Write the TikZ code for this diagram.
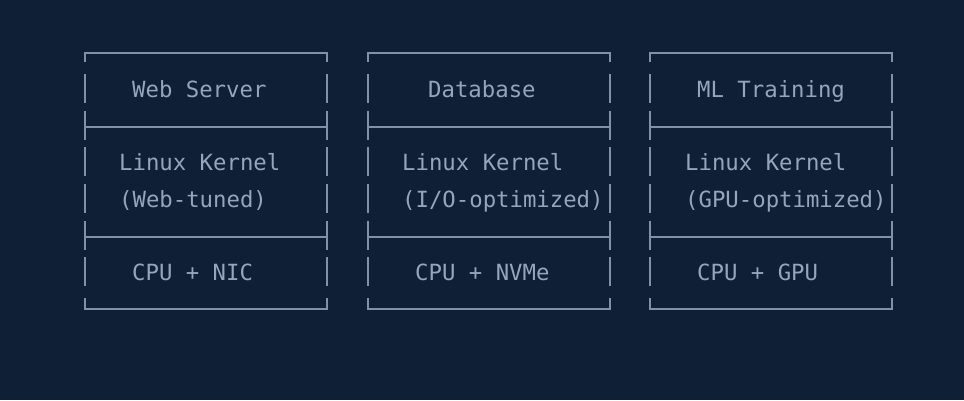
\documentclass[tikz,border=0pt]{standalone}
\usepackage{fontspec}
\setmonofont{DejaVu Sans Mono}
\definecolor{bgblue}{HTML}{0F1F35}
\definecolor{rulegray}{HTML}{7F93A8}
\definecolor{txtgray}{HTML}{93A7BC}
\tikzset{
  lbl/.style = {anchor=base west, inner sep=0pt, text=txtgray, font=\ttfamily\fontsize{22.3}{25}\selectfont},
  rule/.style = {draw=rulegray, line width=1.6pt}
}
% one ascii box: left x, right x
\newcommand{\asciibox}[2]{
  \draw[rule] (#1,-62) -- (#1,-53) -- (#2,-53) -- (#2,-62);
  \foreach \c in {90,127,163,200,237,273}
    {\draw[rule] (#1,-\c+16) -- (#1,-\c-13);
     \draw[rule] (#2,-\c+16) -- (#2,-\c-13);}
  \draw[rule] (#1,-127) -- (#2,-127);
  \draw[rule] (#1,-237) -- (#2,-237);
  \draw[rule] (#1,-298) -- (#1,-309) -- (#2,-309) -- (#2,-298);
}
\begin{document}
\begin{tikzpicture}[x=1pt, y=1pt]
  \fill[bgblue] (0,0) rectangle (964,-400);
  \asciibox{85}{327}
  \asciibox{368}{610}
  \asciibox{650}{892}

  \node[lbl] (web)     at (132,-97)  {Web Server};
  \node[lbl] (webk)    at (119,-170) {Linux Kernel};
  \node[lbl] (webt)    at (119,-207) {(Web-tuned)};
  \node[lbl] (webhw)   at (132,-280) {CPU + NIC};

  \node[lbl] (db)      at (428,-97)  {Database};
  \node[lbl] (dbk)     at (402,-170) {Linux Kernel};
  \node[lbl] (dbt)     at (402,-207) {(I/O-optimized)};
  \node[lbl] (dbhw)    at (415,-280) {CPU + NVMe};

  \node[lbl] (ml)      at (697,-97)  {ML Training};
  \node[lbl] (mlk)     at (685,-170) {Linux Kernel};
  \node[lbl] (mlt)     at (685,-207) {(GPU-optimized)};
  \node[lbl] (mlhw)    at (697,-280) {CPU + GPU};
\end{tikzpicture}
\end{document}
